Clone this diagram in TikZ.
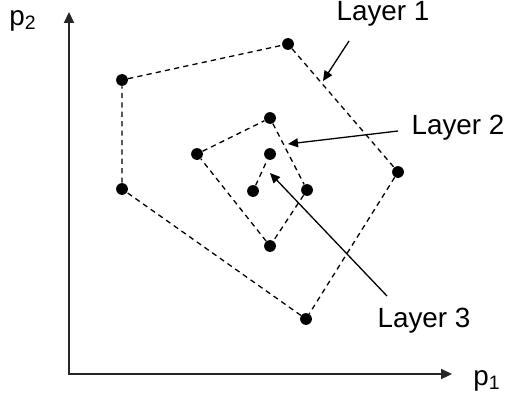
\documentclass[tikz,border=0pt]{standalone}
\usepackage{fontspec}
\setmainfont{Liberation Sans}
\usetikzlibrary{arrows.meta}
\tikzset{
  dot/.style={circle,fill=black,inner sep=0pt,minimum size=5.9pt},
  layerline/.style={line width=0.65pt,dash pattern=on 2.6pt off 2.1pt},
  axis/.style={line width=1.1pt,draw=black!85,-{Triangle[length=5.5pt,width=5pt]}},
  pointer/.style={line width=0.65pt,-{Triangle[length=5pt,width=4.5pt]}},
  lbl/.style={font=\fontsize{13.9pt}{16pt}\selectfont,inner sep=0pt}
}
\begin{document}
\begin{tikzpicture}[x=0.5pt,y=-0.5pt]
\useasboundingbox (0,0) rectangle (507,401);
% axes
\coordinate (O) at (69,374);
\coordinate (Ytop) at (69,12);
\coordinate (Xend) at (452,374);
\draw[axis] (O) -- (Ytop);
\draw[axis] ([xshift=-0.55pt]O) -- (Xend);
\node[lbl] (p2) at (23,21) {p\textsubscript{2}};
\node[lbl] (p1) at (487,381) {p\textsubscript{1}};
% Layer 1
\node[dot] (a1) at (122,80) {};
\node[dot] (a2) at (288,44) {};
\node[dot] (a3) at (398,172) {};
\node[dot] (a4) at (306,319) {};
\node[dot] (a5) at (122,189) {};
\draw[layerline] (a1) -- (a2) -- (a3) -- (a4) -- (a5) -- (a1);
% Layer 2
\node[dot] (b1) at (197,154) {};
\node[dot] (b2) at (270,118) {};
\node[dot] (b3) at (307,190) {};
\node[dot] (b4) at (270,246) {};
\draw[layerline] (b1) -- (b2) -- (b3) -- (b4) -- (b1);
% Layer 3
\node[dot] (c1) at (253,191) {};
\node[dot] (c2) at (270,154) {};
\draw[layerline] (c1) -- (c2);
% labels
\node[lbl] (L1) at (383,14) {Layer 1};
\node[lbl] (L2) at (458,128) {Layer 2};
\node[lbl] (L3) at (424,321) {Layer 3};
\coordinate (t1) at (349,41);
\coordinate (h1) at (323,81);
\coordinate (t2) at (398,131);
\coordinate (h2) at (288,144);
\coordinate (t3) at (387,296);
\coordinate (h3) at (270,173);
\draw[pointer] (t1) -- (h1);
\draw[pointer] (t2) -- (h2);
\draw[pointer] (t3) -- (h3);
\end{tikzpicture}
\end{document}
